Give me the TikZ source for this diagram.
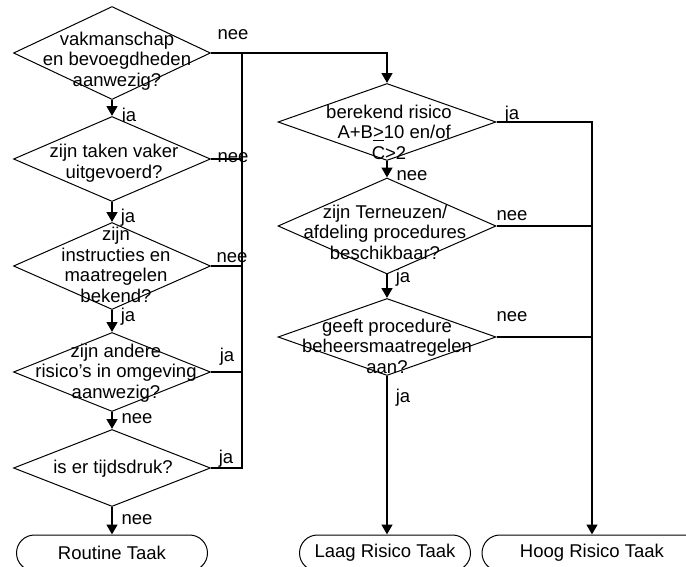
\documentclass[tikz,border=0pt]{standalone}
\usepackage{fontspec}
\setmainfont{Liberation Sans}
\usetikzlibrary{shapes.geometric, shapes.misc, arrows.meta}

\begin{document}
\begin{tikzpicture}[x=0.3mm, y=-0.3mm,
  every node/.style={font=\fontsize{15.8}{17.5}\selectfont},
  decision/.style={diamond, draw, line width=0.85pt, fill=white, inner sep=0pt},
  qtext/.style={align=center, inner sep=0pt},
  terminal/.style={rounded rectangle, draw, line width=0.85pt, fill=white, minimum height=10.8mm, inner sep=0pt},
  flow/.style={line width=2.2pt, -{Triangle[length=3mm, width=3.2mm]}},
  bus/.style={line width=2.2pt}]
  \useasboundingbox (0,0) rectangle (686,567);

  % ===== branch labels (under the diamonds) =====
  \node (l1nee) at (233,35) {nee};
  \node (l1ja)  at (129,117) {ja};
  \node (l2nee) at (233,158) {nee};
  \node (l2ja)  at (128,218) {ja};
  \node (l3nee) at (232,258) {nee};
  \node (l3ja)  at (128,317) {ja};
  \node (l4ja)  at (227,357) {ja};
  \node (l4nee) at (137,419) {nee};
  \node (l5ja)  at (226,459) {ja};
  \node (l5nee) at (137,520) {nee};
  \node (l6ja)  at (512,115) {ja};
  \node (l6nee) at (412,176) {nee};
  \node (l7nee) at (512,216) {nee};
  \node (l7ja)  at (403,278) {ja};
  \node (l8nee) at (512,317) {nee};
  \node (l8ja)  at (403,398) {ja};

  % ===== Left column =====
  \node[decision, minimum width=59.1mm, minimum height=27.9mm] (d1) at (112,53) {};
  \node[decision, minimum width=59.1mm, minimum height=25.5mm] (d2) at (112,159) {};
  \node[decision, minimum width=59.1mm, minimum height=26.1mm] (d3) at (112,266) {};
  \node[decision, minimum width=59.1mm, minimum height=23.7mm] (d4) at (112,372) {};
  \node[decision, minimum width=59.1mm, minimum height=23.1mm] (d5) at (112,468) {};

  % ===== Right column =====
  \node[decision, minimum width=65.4mm, minimum height=23.1mm] (d6) at (387,122) {};
  \node[decision, minimum width=65.4mm, minimum height=28.8mm] (d7) at (387,226) {};
  \node[decision, minimum width=65.4mm, minimum height=23.1mm] (d8) at (387,337) {};

  % Question texts
  \node[qtext] (t1) at (117,61) {vakmanschap\\en bevoegdheden\\aanwezig?};
  \node[qtext] (t2) at (114,163) {zijn taken vaker\\uitgevoerd?};
  \node[qtext] (t3) at (116,265) {zijn\\instructies en\\maatregelen\\bekend?};
  \node[qtext] (t4) at (116,373) {zijn andere\\risico's in omgeving\\aanwezig?};
  \node[qtext] (t5) at (113,469) {is er tijdsdruk?};
  \node[qtext] (t6) at (389,132) {berekend risico\\\ \ A+B\underline{>}10 en/of\\C>2};
  \node[qtext] (t7) at (385,232) {zijn Terneuzen/\\afdeling procedures\\beschikbaar?};
  \node[qtext] (t8) at (387,346) {geeft procedure\\beheersmaatregelen\\aan?};

  % Outcomes
  \node[terminal, minimum width=57.3mm] (routine) at (112,553) {Routine Taak};
  \node[terminal, minimum width=51.3mm] (laag) at (385,553) {Laag Risico Taak};
  \node[terminal, minimum width=66mm] (hoog) at (592,553) {Hoog Risico Taak};

  % ===== Connectors =====
  \coordinate (b1) at (242,53);
  \coordinate (b5) at (b1 |- d5.east);

  \draw[flow] (d1.east) -| (d6.north);
  \draw[bus] (d5.east) -- (b5) -- (b1);
  \draw[bus] (d2.east) -- (d2.east -| b1);
  \draw[bus] (d3.east) -- (d3.east -| b1);
  \draw[bus] (d4.east) -- (d4.east -| b1);

  \draw[flow] (d1.south) -- (d2.north);
  \draw[flow] (d2.south) -- (d3.north);
  \draw[flow] (d3.south) -- (d4.north);
  \draw[flow] (d4.south) -- (d5.north);
  \draw[flow] (d5.south) -- (routine.north);

  \draw[flow] (d6.east) -| (hoog.north);
  \draw[bus] (d7.east) -- (d7.east -| hoog.north);
  \draw[bus] (d8.east) -- (d8.east -| hoog.north);

  \draw[flow] (d6.south) -- (d7.north);
  \draw[flow] (d7.south) -- (d8.north);
  \draw[flow] (d8.south) -- (d8.south |- laag.north);
\end{tikzpicture}
\end{document}
